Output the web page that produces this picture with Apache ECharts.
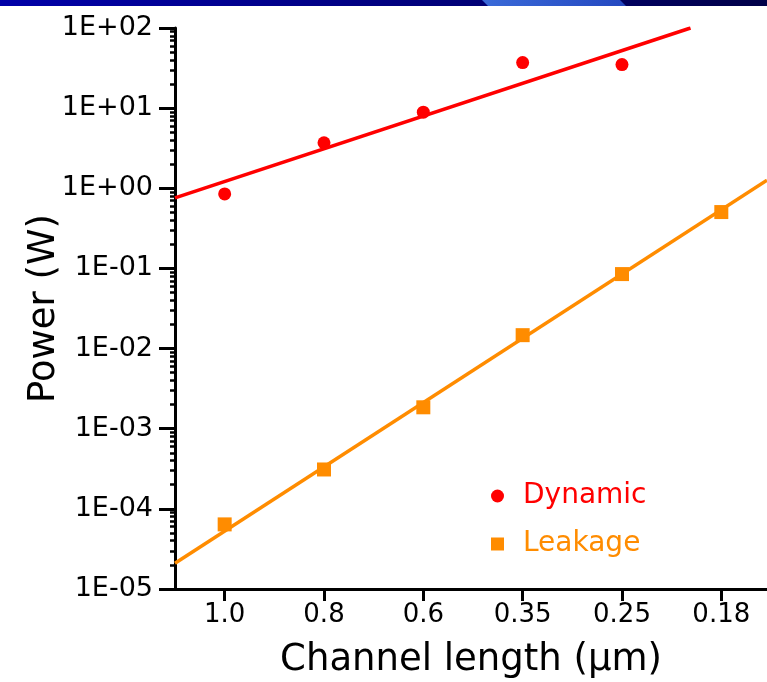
<!DOCTYPE html>
<html>
<head>
<meta charset="utf-8">
<script src="https://cdn.jsdelivr.net/npm/echarts@6/dist/echarts.min.js"></script>
<style>
html,body{margin:0;padding:0;background:#fff;}
#chart{width:767px;height:682px;}
</style>
</head>
<body>
<div id="chart"></div>
<script>
// ---- data ----
const xLabels = ['1.0', '0.8', '0.6', '0.35', '0.25', '0.18'];
const dynamicIdx = [0, 1, 2, 3, 4];
const dynamicVals = [0.85, 3.7, 8.9, 37, 35];
const leakageIdx = [0, 1, 2, 3, 4, 5];
const leakageVals = [6.4e-5, 3.1e-4, 1.85e-3, 0.0147, 0.085, 0.505];
// trend lines (end points, in axis units)
const dynamicFitX = [-0.5, 4.69];
const dynamicFitY = [0.76, 100];
const leakageFitX = [-0.5, 5.46];
const leakageFitY = [2.1e-5, 1.26];
const yDecades = [-5, -4, -3, -2, -1, 0, 1, 2];

const RED = '#ff0000';
const ORANGE = '#ff8c00';
const FONT = 'DejaVu Sans';

const zip = (xs, ys) => xs.map((x, i) => [x, ys[i]]);

const minorTicks = [];
yDecades.slice(0, -1).forEach(n => {
  for (let k = 2; k <= 9; k++) minorTicks.push(n + Math.log10(k));
});

function fmtPow(v) {
  const e = Math.round(Math.log10(v));
  const s = e < 0 ? '-' : '+';
  const a = Math.abs(e);
  return '1E' + s + (a < 10 ? '0' : '') + a;
}

const chart = echarts.init(document.getElementById('chart'), null, {renderer: 'canvas'});
chart.setOption({
  animation: false,
  backgroundColor: '#ffffff',
  graphic: [
    {type: 'rect', left: 0, top: 0, shape: {width: 767, height: 6},
     style: {fill: new echarts.graphic.LinearGradient(0, 0, 1, 0, [
       {offset: 0, color: '#0000a8'}, {offset: 0.6, color: '#000078'}, {offset: 1, color: '#000048'}])}, z: 100},
    {type: 'polygon', shape: {points: [[482, 0], [620, 0], [626, 6], [488, 6]]},
     style: {fill: new echarts.graphic.LinearGradient(0, 0, 1, 0, [
       {offset: 0, color: '#3a6ad8'}, {offset: 1, color: '#2448c0'}])}, z: 101}
  ],
  grid: {left: 175, right: 0, top: 28, bottom: 93, containLabel: false, outerBoundsMode: 'none'},
  legend: {
    orient: 'vertical', left: 486, top: 476,
    itemWidth: 13, itemHeight: 13, itemGap: 18,
    selectedMode: false,
    textStyle: {fontFamily: FONT, fontSize: 28, lineHeight: 30, padding: [0, 0, 0, 14]},
    data: [
      {name: 'Dynamic', icon: 'circle', textStyle: {color: RED}},
      {name: 'Leakage', icon: 'rect', textStyle: {color: ORANGE}}
    ]
  },
  xAxis: {
    type: 'value', min: -0.5, max: 5.46,
    name: 'Channel length (µm)', nameLocation: 'middle', nameGap: 53,
    nameMoveOverlap: false,
    nameTextStyle: {fontFamily: FONT, fontSize: 37, color: '#000'},
    axisLine: {show: true, onZero: false, lineStyle: {color: '#000', width: 3}},
    axisTick: {show: true, customValues: leakageIdx, length: 12, lineStyle: {color: '#000', width: 3}},
    axisLabel: {customValues: leakageIdx, formatter: v => xLabels[Math.round(v)],
      fontFamily: FONT, fontSize: 26, color: '#000', margin: 13},
    splitLine: {show: false}
  },
  yAxis: [
    {
      type: 'log', logBase: 10, min: 1e-5, max: 100, interval: 1,
      name: 'Power (W)', nameLocation: 'middle', nameGap: 112, nameRotate: 90,
      nameMoveOverlap: false,
      nameTextStyle: {fontFamily: FONT, fontSize: 37, color: '#000'},
      axisLine: {show: true, onZero: false, lineStyle: {color: '#000', width: 3}},
      axisTick: {show: true, length: 16, lineStyle: {color: '#000', width: 3}},
      axisLabel: {formatter: fmtPow, fontFamily: FONT, fontSize: 27, color: '#000', margin: 22},
      splitLine: {show: false}, minorTick: {show: false}
    },
    {
      type: 'value', min: -5, max: 2, position: 'left',
      axisLine: {show: false, onZero: false},
      axisTick: {show: true, customValues: minorTicks, length: 5, lineStyle: {color: '#000', width: 2.5}},
      axisLabel: {show: false},
      splitLine: {show: false}
    }
  ],
  series: [
    {name: 'DynamicFit', type: 'line', yAxisIndex: 0, data: zip(dynamicFitX, dynamicFitY),
     showSymbol: false, symbol: 'none', lineStyle: {color: RED, width: 3.5}, z: 2, silent: true},
    {name: 'LeakageFit', type: 'line', yAxisIndex: 0, data: zip(leakageFitX, leakageFitY),
     showSymbol: false, symbol: 'none', lineStyle: {color: ORANGE, width: 3.5}, z: 2, silent: true},
    {name: 'Dynamic', type: 'scatter', yAxisIndex: 0, data: zip(dynamicIdx, dynamicVals),
     symbol: 'circle', symbolSize: 13, itemStyle: {color: RED, opacity: 1}, z: 3},
    {name: 'Leakage', type: 'scatter', yAxisIndex: 0, data: zip(leakageIdx, leakageVals),
     symbol: 'rect', symbolSize: 14, itemStyle: {color: ORANGE, opacity: 1}, z: 3}
  ]
});
</script>
</body>
</html>
